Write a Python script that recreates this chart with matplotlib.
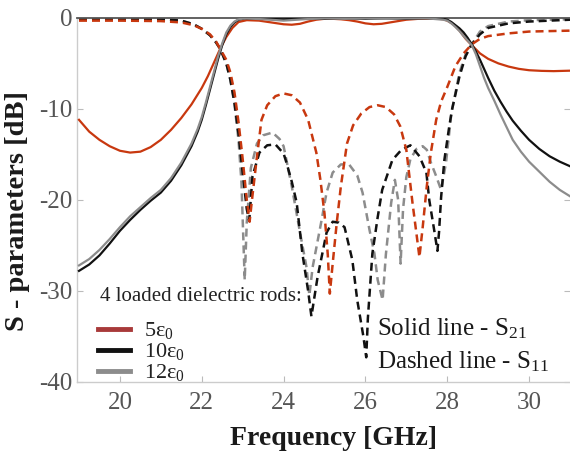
import matplotlib
matplotlib.use("Agg")
import matplotlib.pyplot as plt
from matplotlib.lines import Line2D

plt.rcParams['font.family'] = ['Liberation Serif', 'DejaVu Serif']
plt.rcParams['mathtext.fontset'] = 'custom'
plt.rcParams['mathtext.rm'] = 'Liberation Serif'
plt.rcParams['mathtext.it'] = 'Liberation Serif:italic'
plt.rcParams['axes.unicode_minus'] = False

# ---- data ----
# S21, solid lines
f21_5 = [19.0, 19.25, 19.5, 19.75, 20.0, 20.25, 20.5, 20.75, 21.0, 21.25, 21.5, 21.75, 22.0, 22.15,
         22.3, 22.45, 22.6, 22.75, 22.9, 23.1, 23.4, 23.7, 24.0, 24.2, 24.4, 24.6, 24.8, 25.0, 25.2,
         25.4, 25.6, 25.8, 26.0, 26.2, 26.4, 26.6, 26.8, 27.0, 27.3, 27.6, 27.8, 27.9, 28.0, 28.15,
         28.3, 28.45, 28.6, 28.8, 29.0, 29.25, 29.5, 29.75, 30.0, 30.3, 30.6, 31.0]
s21_5 = [-11.2, -12.5, -13.4, -14.1, -14.6, -14.8, -14.7, -14.2, -13.4, -12.3, -11.0, -9.5, -7.7, -6.4,
         -4.9, -3.4, -2.1, -1.1, -0.45, -0.25, -0.3, -0.5, -0.7, -0.75, -0.65, -0.4, -0.2, -0.1, -0.1,
         -0.15, -0.25, -0.4, -0.6, -0.7, -0.65, -0.5, -0.35, -0.2, -0.1, -0.08, -0.1, -0.15, -0.3, -0.7,
         -1.4, -2.3, -3.0, -3.9, -4.5, -5.0, -5.35, -5.6, -5.75, -5.82, -5.85, -5.8]

f21_10 = [19.0, 19.25, 19.5, 19.75, 20.0, 20.25, 20.5, 20.75, 21.0, 21.25, 21.5, 21.75, 21.9, 22.0,
          22.1, 22.2, 22.3, 22.4, 22.5, 22.6, 22.7, 22.8, 22.9, 23.05, 23.5, 24.0, 24.5, 25.0, 25.5,
          26.0, 26.5, 27.0, 27.5, 27.9, 28.0, 28.1, 28.2, 28.3, 28.4, 28.5, 28.6, 28.7, 28.8, 28.9,
          29.0, 29.15, 29.3, 29.45, 29.6, 29.8, 30.0, 30.25, 30.5, 30.75, 31.0]
s21_10 = [-27.8, -27.1, -26.1, -24.8, -23.4, -22.2, -21.1, -20.1, -19.2, -17.9, -16.2, -14.1, -12.5, -11.2,
          -9.6, -7.9, -6.2, -4.5, -3.0, -1.8, -1.0, -0.5, -0.2, -0.05, -0.1, -0.15, -0.05, -0.1, -0.05,
          -0.1, -0.05, -0.1, -0.05, -0.1, -0.2, -0.45, -0.8, -1.15, -1.6, -2.2, -2.9, -3.7, -4.6, -5.6,
          -6.6, -8.0, -9.2, -10.3, -11.3, -12.4, -13.4, -14.4, -15.2, -15.8, -16.3]

f21_12 = f21_10
s21_12 = [-27.2, -26.5, -25.5, -24.3, -23.0, -21.8, -20.8, -19.8, -18.9, -17.6, -15.9, -13.8, -12.2, -10.9,
          -9.3, -7.6, -5.9, -4.2, -2.8, -1.6, -0.85, -0.4, -0.15, -0.05, -0.15, -0.3, -0.15, -0.05, -0.1,
          -0.05, -0.1, -0.05, -0.05, -0.2, -0.3, -0.6, -1.0, -1.45, -2.0, -2.5, -3.0, -4.0, -5.3, -6.6,
          -7.7, -9.1, -10.6, -12.0, -13.4, -14.7, -15.8, -16.9, -18.0, -18.9, -19.6]

# S11, dashed lines
f11_5 = [19.0, 20.0, 21.0, 21.5, 21.8, 22.0, 22.2, 22.35, 22.45, 22.6, 22.7, 22.8, 22.9, 23.0, 23.1,
         23.17, 23.22, 23.34, 23.46, 23.6, 23.8, 24.0, 24.2, 24.4, 24.6, 24.8, 24.9, 25.0, 25.08, 25.13,
         25.2, 25.3, 25.4, 25.55, 25.7, 25.9, 26.1, 26.3, 26.5, 26.7, 26.85, 27.0, 27.15, 27.25, 27.32,
         27.4, 27.5, 27.6, 27.73, 27.85, 28.0, 28.2, 28.4, 28.6, 28.8, 29.0, 29.5, 30.0, 31.0]
s11_5 = [-0.3, -0.3, -0.35, -0.5, -0.8, -1.2, -1.8, -2.6, -3.4, -4.6, -6.0, -8.2, -11.5, -15.5, -20.0,
         -22.4, -20.3, -15.6, -11.2, -9.6, -8.6, -8.3, -8.5, -9.3, -11.2, -14.8, -17.8, -21.5, -26.0, -30.3,
         -27.0, -22.5, -18.5, -13.8, -11.8, -10.5, -9.8, -9.6, -9.8, -10.6, -11.9, -14.5, -20.3, -23.8, -26.3,
         -23.0, -18.5, -14.8, -11.2, -9.2, -7.6, -5.3, -3.9, -2.9, -2.3, -2.0, -1.7, -1.5, -1.4]

f11_10 = [19.0, 21.0, 21.5, 21.8, 22.0, 22.2, 22.35, 22.45, 22.6, 22.7, 22.8, 22.9, 23.0, 23.1, 23.16,
          23.24, 23.41, 23.6, 23.8, 24.0, 24.07, 24.2, 24.32, 24.46, 24.6, 24.68, 24.76, 24.83, 25.05, 25.2,
          25.35, 25.49, 25.68, 25.8, 25.95, 26.02, 26.06, 26.17, 26.3, 26.41, 26.66, 26.88, 27.1, 27.32, 27.49,
          27.56, 27.68, 27.76, 27.8, 27.85, 27.93, 28.05, 28.12, 28.3, 28.45, 28.6, 28.8, 29.0, 29.5, 30.0, 31.0]
s11_10 = [-0.1, -0.15, -0.3, -0.7, -1.2, -1.9, -2.7, -3.4, -5.0, -6.8, -9.3, -12.8, -17.0, -21.0, -22.3,
          -17.4, -14.8, -14.0, -13.9, -14.9, -15.9, -18.0, -20.3, -25.9, -30.0, -32.8, -30.5, -28.5, -23.6, -22.4,
          -22.5, -23.0, -26.6, -31.0, -35.0, -37.3, -33.0, -25.9, -21.9, -18.9, -15.6, -14.5, -14.0, -15.2, -17.0,
          -20.0, -23.3, -25.6, -23.5, -19.7, -15.6, -11.9, -10.0, -6.4, -4.2, -2.9, -1.8, -1.1, -0.6, -0.4, -0.2]

f11_12 = [19.0, 21.0, 21.5, 21.8, 22.0, 22.2, 22.35, 22.45, 22.6, 22.7, 22.8, 22.9, 22.97, 23.05, 23.1,
          23.2, 23.35, 23.5, 23.73, 23.9, 24.0, 24.2, 24.39, 24.56, 24.63, 24.71, 24.93, 25.05, 25.2, 25.4,
          25.6, 25.8, 25.93, 26.1, 26.22, 26.3, 26.42, 26.5, 26.63, 26.72, 26.8, 26.86, 26.92, 27.0, 27.1,
          27.25, 27.4, 27.5, 27.6, 27.73, 27.85, 27.97, 28.1, 28.3, 28.45, 28.6, 28.8, 29.0, 29.5, 30.0, 31.0]
s11_12 = [-0.05, -0.1, -0.3, -0.7, -1.2, -1.9, -2.7, -3.4, -5.0, -6.8, -9.5, -13.5, -18.0, -28.8, -22.5,
          -16.5, -13.8, -12.9, -12.6, -13.3, -14.1, -18.5, -23.3, -27.4, -30.5, -27.4, -22.2, -19.2, -17.0, -16.1,
          -16.1, -17.3, -19.2, -23.3, -25.9, -28.8, -31.0, -26.0, -20.3, -17.8, -20.0, -27.0, -21.0, -17.5, -15.5,
          -14.4, -14.1, -14.5, -15.9, -17.4, -18.9, -15.9, -10.5, -6.0, -4.0, -2.9, -1.5, -0.9, -0.4, -0.25, -0.15]

legend_labels = ["5\u03b5$_0$", "10\u03b5$_0$", "12\u03b5$_0$"]
xticks = [20, 22, 24, 26, 28, 30]
yticks = [0, -10, -20, -30, -40]

# ---- styles ----
c_red = '#c8380f'
c_blk = '#111111'
c_gry = '#8c8c8c'
leg_colors = ['#a83a3a', '#111111', '#8c8c8c']
dash = (0, (3.2, 2.0))

fig = plt.figure(figsize=(5.7, 4.59), dpi=100)
ax = fig.add_axes([0.135, 0.168, 0.865, 0.793])

ax.plot(f21_5, s21_5, color=c_red, lw=1.6, zorder=3)
ax.plot(f21_10, s21_10, color=c_blk, lw=1.6, zorder=3)
ax.plot(f21_12, s21_12, color=c_gry, lw=1.6, zorder=3)
ax.plot(f11_12, s11_12, color=c_gry, lw=1.8, ls=dash, zorder=2)
ax.plot(f11_10, s11_10, color=c_blk, lw=1.8, ls=dash, zorder=2)
ax.plot(f11_5, s11_5, color=c_red, lw=1.8, ls=dash, zorder=2)

ax.set_xlim(18.95, 31.0)
ax.set_ylim(-40, 0)
ax.set_xticks(xticks)
ax.set_yticks(yticks)
ax.tick_params(direction='in', length=4, color='#bbbbbb', labelcolor='#555555',
               labelsize=18, right=True, top=False)
ax.tick_params(axis='y', pad=3)
ax.tick_params(axis='x', pad=7)

for s in ['left', 'bottom']:
    ax.spines[s].set_color('#cccccc')
    ax.spines[s].set_linewidth(1.0)
ax.spines['top'].set_color('#555555')
ax.spines['top'].set_linewidth(1.3)
ax.spines['right'].set_visible(False)

ax.set_xlabel('Frequency [GHz]', fontsize=20, fontweight='bold', color='#1a1a1a')
ax.set_ylabel('S - parameters [dB]', fontsize=20.5, fontweight='bold', color='#1a1a1a')
ax.xaxis.set_label_coords(0.52, -0.12)
ax.yaxis.set_label_coords(-0.095, 0.47)

ax.text(0.047, 0.234, '4 loaded dielectric rods:', transform=ax.transAxes,
        fontsize=15, color='#222222', va='center', ha='left')
handles = [Line2D([], [], color=c, lw=3.5) for c in leg_colors]
leg = ax.legend(handles, legend_labels, loc='lower left', bbox_to_anchor=(0.043, -0.004),
                frameon=False, fontsize=16, handlelength=1.45, handletextpad=0.6,
                labelspacing=0.0, borderpad=0.0, borderaxespad=0.0)
for t in leg.get_texts():
    t.set_color('#222222')

ax.text(0.608, 0.146, 'Solid line - S$_{21}$', transform=ax.transAxes,
        fontsize=18, color='#1a1a1a', va='center', ha='left')
ax.text(0.608, 0.055, 'Dashed line - S$_{11}$', transform=ax.transAxes,
        fontsize=18, color='#1a1a1a', va='center', ha='left')

fig.savefig('out.png', dpi=100)
